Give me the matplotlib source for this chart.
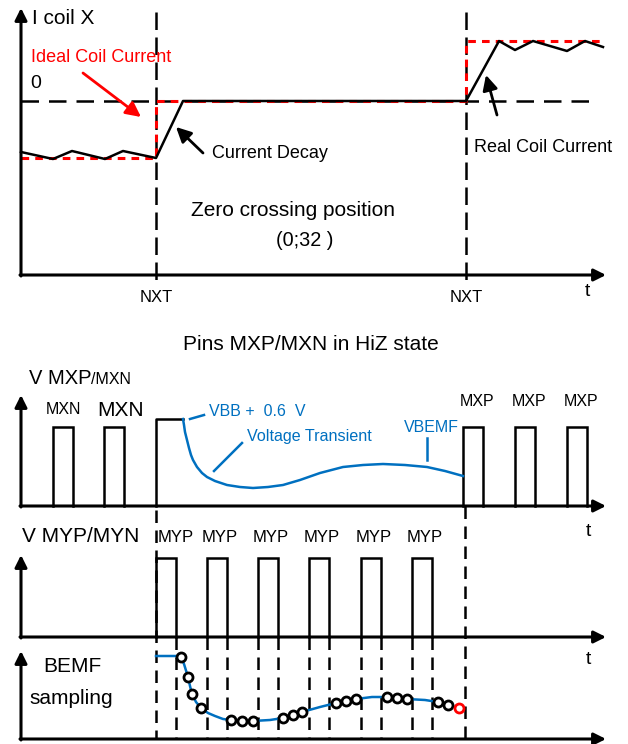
import matplotlib
matplotlib.use("Agg")
import matplotlib.pyplot as plt

plt.rcParams["font.family"] = ["Liberation Sans", "DejaVu Sans"]

BLUE = "#0070C0"
RED = "#FF0000"

# ---- diagram data (drawing units = pixels of the original sheet) ----
# top panel: coil current
real_left_t = [21, 53, 72, 105, 123, 156, 183, 466]
real_left_i = [152, 159, 151, 159, 151, 158, 101, 101]
real_right_t = [466, 499, 515, 533, 567, 585, 603]
real_right_i = [101, 41, 50, 41, 51, 41, 47]
ideal_t = [21, 156, 156, 466, 466, 603]
ideal_i = [158, 158, 101, 101, 41, 41]
nxt_times = [156, 466]

# middle panel: V MXP/MXN
mxn_starts = [53, 104]
mxp_starts = [463, 515, 567]
hiz_t = [156, 156, 183]
hiz_v = [506, 419, 419]
transient_t = [183, 184, 185, 187, 189, 191, 193, 197, 202, 207, 215, 227, 240,
               253, 268, 283, 300, 320, 343, 363, 383, 405, 427, 445, 463]
transient_v = [419, 425, 432, 440, 448, 455, 460, 467, 473, 477, 481, 485, 487,
               488, 487, 485, 480, 473, 467, 465, 464, 465, 467, 471, 476]

# V MYP/MYN panel
myp_starts = [156, 207, 258, 309, 361, 412]

# BEMF sampling
bemf_t = [156, 179, 181, 184, 188, 190, 192, 196, 201, 208, 215, 223, 231, 242,
          253, 270, 283, 293, 302, 320, 336, 346, 356, 372, 387, 397, 407, 425,
          438, 448, 458]
bemf_v = [656, 656, 657, 664, 677, 686, 694, 702, 708, 713, 716, 719, 720, 721,
          721, 720, 718, 715, 712, 707, 703, 701, 699, 697, 697, 698, 699, 700,
          702, 705, 708]
sample_t = [181, 188, 192, 201, 231, 242, 253, 283, 293, 302, 336, 346, 356,
            387, 397, 407, 438, 448]
sample_v = [657, 677, 694, 708, 720, 721, 721, 718, 715, 712, 703, 701, 699,
            697, 698, 699, 702, 705]
zc_sample = (459, 708)

PULSE_W = 20
LW_AX = 2.2
LW = 1.8


def axis_arrows(ax, x0, y_base, y_top, x_end):
    style = dict(arrowstyle="-|>", color="black", lw=LW_AX, mutation_scale=18,
                 shrinkA=0, shrinkB=0)
    ax.annotate("", xy=(x0, y_top), xytext=(x0, y_base + 1), arrowprops=style)
    ax.annotate("", xy=(x_end, y_base), xytext=(x0 - 1, y_base), arrowprops=style)


def pulses(ax, starts, top, base):
    for s in starts:
        ax.plot([s, s, s + PULSE_W, s + PULSE_W], [base, top, top, base],
                color="black", lw=LW, solid_joinstyle="miter")


def pointer(ax, start, end, color="black"):
    ax.annotate("", xy=end, xytext=start,
                arrowprops=dict(arrowstyle="-|>,head_length=0.6,head_width=0.3",
                                color=color, lw=2, mutation_scale=15,
                                shrinkA=0, shrinkB=0))


fig = plt.figure(figsize=(6.28, 7.44), dpi=100)
ax = fig.add_axes([0, 0, 1, 1])
ax.set_xlim(0, 628)
ax.set_ylim(744, 0)
ax.axis("off")

# ---------------- top panel ----------------
axis_arrows(ax, 21, 275, 8, 606)
ax.plot([21, 598], [101, 101], color="black", lw=LW, dashes=(7, 4))
for t in nxt_times:
    ax.plot([t, t], [12, 285], color="black", lw=LW, dashes=(7, 3))
ax.plot(ideal_t, ideal_i, color=RED, lw=2.2, dashes=(2.5, 2))
ax.plot(real_left_t, real_left_i, color="black", lw=LW)
ax.plot(real_right_t, real_right_i, color="black", lw=LW)
pointer(ax, (83, 73), (141, 117), RED)
pointer(ax, (203, 153), (176, 127))
pointer(ax, (497, 115), (486, 75))

ax.text(32, 18, "I coil X", fontsize=15, va="center")
ax.text(31, 58, "Ideal Coil Current", fontsize=13, color=RED, va="center")
ax.text(30, 84, "0", fontsize=14, va="center")
ax.text(212, 153, "Current Decay", fontsize=13, va="center")
ax.text(474, 148, "Real Coil Current", fontsize=13, va="center")
ax.text(293, 211, "Zero crossing position", fontsize=15, ha="center", va="center")
ax.text(305, 241, "(0;32 )", fontsize=14.3, ha="center", va="center")
for t in nxt_times:
    ax.text(t, 298, "NXT", fontsize=12, ha="center", va="center")
ax.text(587, 292, "t", fontsize=14, ha="center", va="center")

ax.text(311, 345, "Pins MXP/MXN in HiZ state", fontsize=15, ha="center", va="center")

# ---------------- V MXP/MXN ----------------
axis_arrows(ax, 21, 506, 395, 606)
pulses(ax, mxn_starts, 427, 506)
pulses(ax, mxp_starts, 427, 506)
ax.plot(hiz_t, hiz_v, color="black", lw=LW)
ax.plot(transient_t, transient_v, color=BLUE, lw=LW)
ax.plot([190, 204], [419, 415], color=BLUE, lw=LW)
ax.plot([214, 242], [471, 443], color=BLUE, lw=LW)
ax.plot([427, 427], [438, 460], color=BLUE, lw=LW)

ax.text(29, 384, "V MXP", fontsize=14.5, va="baseline")
ax.text(91, 384, "/MXN", fontsize=11.5, va="baseline")
ax.text(63, 410, "MXN", fontsize=11.5, ha="center", va="center")
ax.text(121, 410, "MXN", fontsize=15, ha="center", va="center")
for s in mxp_starts:
    ax.text(s + PULSE_W / 2 + 4, 401, "MXP", fontsize=11.5, ha="center", va="center")
ax.text(209, 411, "VBB +  0.6  V", fontsize=11.5, color=BLUE, va="center")
ax.text(247, 437, "Voltage Transient", fontsize=11.6, color=BLUE, va="center")
ax.text(404, 427, "VBEMF", fontsize=11.5, color=BLUE, va="center")
ax.text(588, 532, "t", fontsize=14, ha="center", va="center")

# ---------------- V MYP/MYN ----------------
axis_arrows(ax, 21, 637, 555, 606)
pulses(ax, myp_starts, 558, 637)
ax.text(22, 536, "V MYP/MYN", fontsize=15, va="center")
for i, s in enumerate(myp_starts):
    ax.text(s + PULSE_W / 2 + (10 if i == 0 else 3), 537, "MYP", fontsize=12,
            ha="center", va="center")
ax.text(588, 659, "t", fontsize=14, ha="center", va="center")

# ---------------- BEMF sampling ----------------
axis_arrows(ax, 21, 739, 651, 606)
ax.plot([156, 156], [510, 739], color="black", lw=LW, dashes=(5, 3))
ax.plot([465, 465], [506, 739], color="black", lw=LW, dashes=(5, 3))
for s in myp_starts:
    for edge in (s, s + PULSE_W):
        if edge != 156:
            ax.plot([edge, edge], [637, 739], color="black", lw=LW, dashes=(5, 3))
ax.plot(bemf_t, bemf_v, color=BLUE, lw=LW)
ax.plot(sample_t, sample_v, "o", ms=6.5, mfc="white", mec="black", mew=2)
ax.plot([zc_sample[0]], [zc_sample[1]], "o", ms=6.5, mfc="white", mec=RED, mew=2)
ax.text(72, 667, "BEMF", fontsize=15, ha="center", va="center")
ax.text(71, 698, "sampling", fontsize=15, ha="center", va="center")

fig.savefig("out.png", dpi=100)
